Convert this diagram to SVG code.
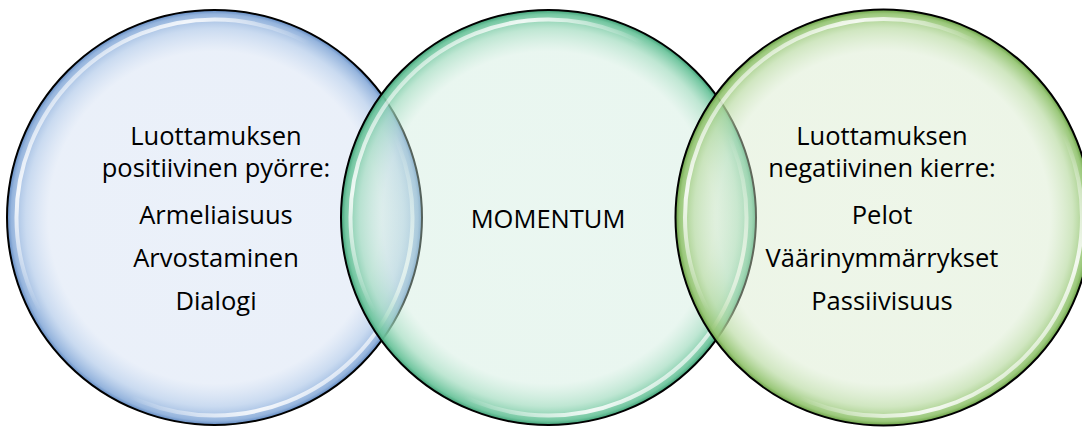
<svg xmlns="http://www.w3.org/2000/svg" width="1082" height="427" viewBox="0 0 1082 427">
<defs>
<radialGradient id="gBlue" cx="50%" cy="50%" r="50%">
<stop offset="0%" stop-color="#cddbf1" stop-opacity="0.4"/>
<stop offset="80%" stop-color="#cddbf1" stop-opacity="0.42"/>
<stop offset="91%" stop-color="#b3cbea" stop-opacity="0.7"/>
<stop offset="98%" stop-color="#8fb0db" stop-opacity="0.95"/>
<stop offset="100%" stop-color="#5f88c0" stop-opacity="1"/>
</radialGradient>
<radialGradient id="gTeal" cx="50%" cy="50%" r="50%">
<stop offset="0%" stop-color="#cbeadb" stop-opacity="0.4"/>
<stop offset="80%" stop-color="#cbeadb" stop-opacity="0.42"/>
<stop offset="91%" stop-color="#a3dcc0" stop-opacity="0.7"/>
<stop offset="98%" stop-color="#6cc49c" stop-opacity="0.95"/>
<stop offset="100%" stop-color="#3e9e74" stop-opacity="1"/>
</radialGradient>
<radialGradient id="gGreen" cx="50%" cy="50%" r="50%">
<stop offset="0%" stop-color="#d6e9ca" stop-opacity="0.42"/>
<stop offset="80%" stop-color="#d6e9ca" stop-opacity="0.45"/>
<stop offset="91%" stop-color="#bcdca6" stop-opacity="0.7"/>
<stop offset="98%" stop-color="#95c573" stop-opacity="0.95"/>
<stop offset="100%" stop-color="#689f44" stop-opacity="1"/>
</radialGradient>
<linearGradient id="hl" x1="0" y1="0" x2="1" y2="1">
<stop offset="0%" stop-color="#ffffff" stop-opacity="0"/>
<stop offset="22%" stop-color="#ffffff" stop-opacity="0.85"/>
<stop offset="40%" stop-color="#ffffff" stop-opacity="0"/>
<stop offset="62%" stop-color="#ffffff" stop-opacity="0"/>
<stop offset="80%" stop-color="#ffffff" stop-opacity="0.85"/>
<stop offset="100%" stop-color="#ffffff" stop-opacity="0"/>
</linearGradient>
</defs>
<style>
.ring{stroke:#000;stroke-width:2}
.hl{fill:none;stroke:url(#hl);stroke-width:4}
.t{font-family:"Open Sans","Liberation Sans",sans-serif;font-size:25.5px;fill:#000;text-anchor:middle}
</style>
<rect width="1082" height="427" fill="#ffffff"/>
<g id="node-left">
<circle class="ring" cx="214.5" cy="217.5" r="207.5" fill="url(#gBlue)"/>
<circle class="hl" cx="214.5" cy="217.5" r="198"/>
</g>
<g id="node-middle">
<circle class="ring" cx="548.5" cy="217.5" r="207.5" fill="url(#gTeal)"/>
<circle class="hl" cx="548.5" cy="217.5" r="198"/>
</g>
<g id="node-right">
<circle class="ring" cx="883.5" cy="217.5" r="208" fill="url(#gGreen)"/>
<circle class="hl" cx="883.5" cy="217.5" r="198.5"/>
</g>
<g id="labels">
<text class="t" x="216" y="145">Luottamuksen</text>
<text class="t" x="216" y="177">positiivinen pyörre:</text>
<text class="t" x="216" y="224">Armeliaisuus</text>
<text class="t" x="216" y="267">Arvostaminen</text>
<text class="t" x="216" y="310">Dialogi</text>
<text class="t" x="548" y="228">MOMENTUM</text>
<text class="t" x="882" y="145">Luottamuksen</text>
<text class="t" x="882" y="177">negatiivinen kierre:</text>
<text class="t" x="882" y="224">Pelot</text>
<text class="t" x="882" y="267">Väärinymmärrykset</text>
<text class="t" x="882" y="310">Passiivisuus</text>
</g>
<g id="connectors"/>
</svg>
